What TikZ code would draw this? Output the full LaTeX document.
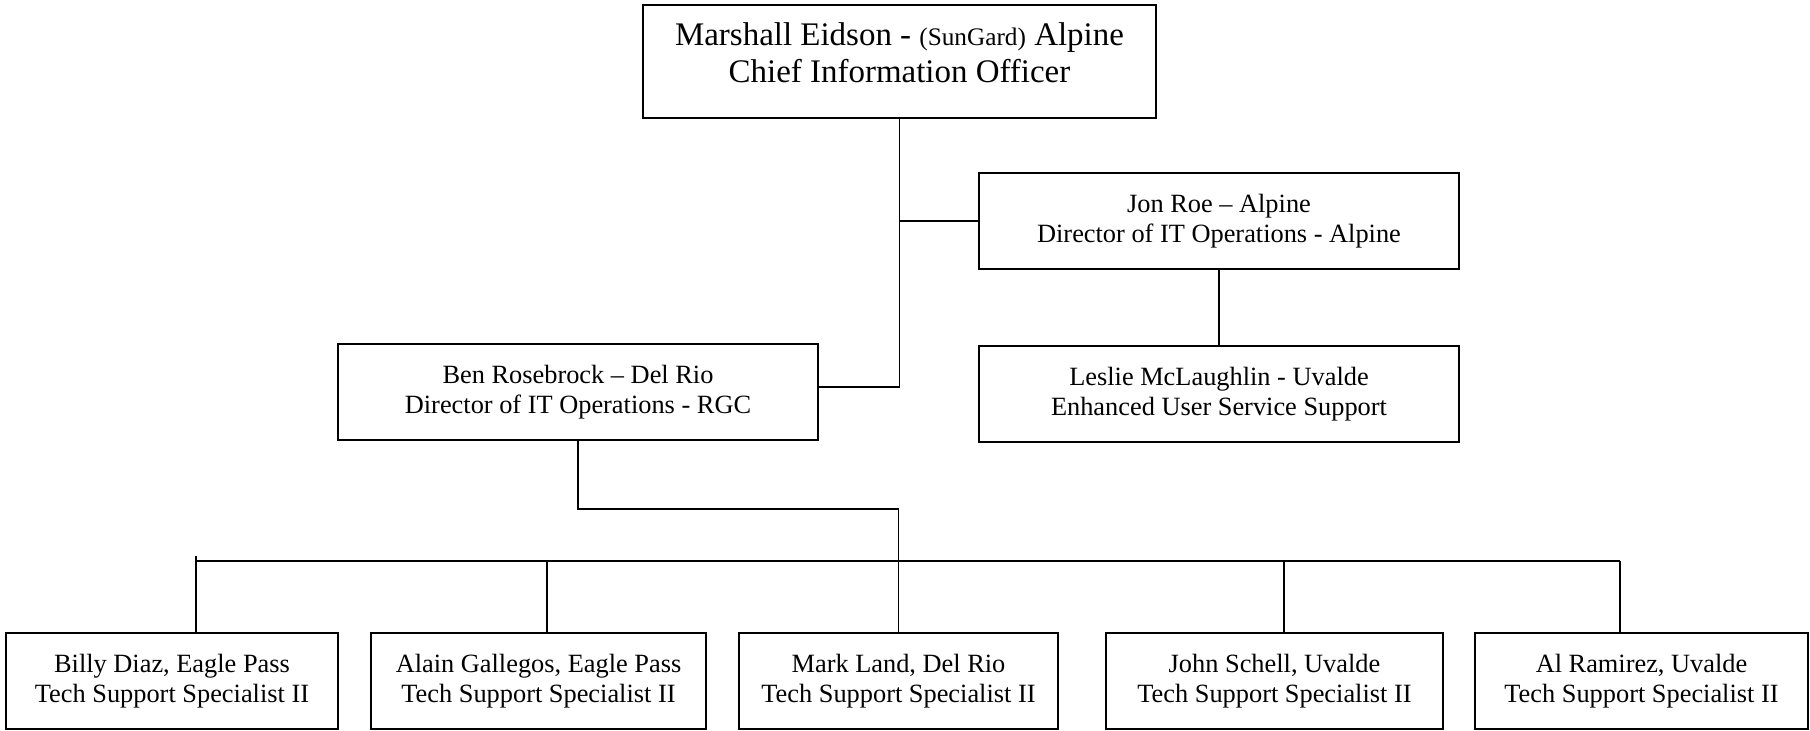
\documentclass[tikz,border=0pt]{standalone}
\usepackage{fontspec}
\setmainfont{Liberation Serif}
\usetikzlibrary{positioning,calc}

\begin{document}
\begin{tikzpicture}[-,line width=0.8pt,inner sep=2pt,
  box/.style={rectangle,draw,anchor=center,align=center,minimum height=1.536cm,
    font=\fontsize{12}{13.6}\selectfont},
  wide/.style={box,minimum width=7.68cm}]

  \useasboundingbox (0,0) rectangle (28.96,-11.68);

  \node[box,minimum width=8.208cm,minimum height=1.808cm,font=\fontsize{15}{16.8}\selectfont]
    (cio) at (14.392,-0.984)
    {Marshall Eidson - {\fontsize{11.5}{14}\selectfont(SunGard)} Alpine\\Chief Information Officer\\[-9pt]};

  \node[wide] (jon) at (19.504,-3.536) {Jon Roe -- Alpine\\Director of IT Operations - Alpine};
  \node[wide,below=1.2cm of jon] (leslie) {Leslie McLaughlin - Uvalde\\Enhanced User Service Support};
  \node[wide] (ben) at (9.248,-6.272) {Ben Rosebrock -- Del Rio\\Director of IT Operations - RGC};

  \node[box,minimum width=5.312cm] (billy) at (2.752,-10.896) {Billy Diaz, Eagle Pass\\Tech Support Specialist II};
  \node[box,minimum width=5.36cm] (alain) at (8.616,-10.896) {Alain Gallegos, Eagle Pass\\Tech Support Specialist II};
  \node[box,minimum width=5.104cm] (mark) at (14.376,-10.896) {Mark Land, Del Rio\\Tech Support Specialist II};
  \node[box,minimum width=5.392cm] (john) at (20.392,-10.896) {John Schell, Uvalde\\Tech Support Specialist II};
  \node[box,minimum width=5.328cm] (al) at (26.264,-10.896) {Al Ramirez, Uvalde\\Tech Support Specialist II};

  \draw (cio.south) |- ([yshift=0.08cm]ben.east);
  \draw (cio.south |- jon.west) -- (jon.west);
  \draw (jon) -- (leslie);
  \draw (ben.south) -- ++(0,-1.088) -| (mark.north);

  \coordinate (busl) at (3.136,-8.976);
  \coordinate (busr) at (25.92,-8.976);
  \draw (busl) -- (busr);
  \draw ([xshift=0.384cm]billy.north) -- ++(0,1.216);
  \foreach \n/\dx in {alain/0.136,john/0.152,al/-0.344}
    \draw ([xshift=\dx cm]\n.north) -- ([xshift=\dx cm]\n.north |- busl);

\end{tikzpicture}
\end{document}
